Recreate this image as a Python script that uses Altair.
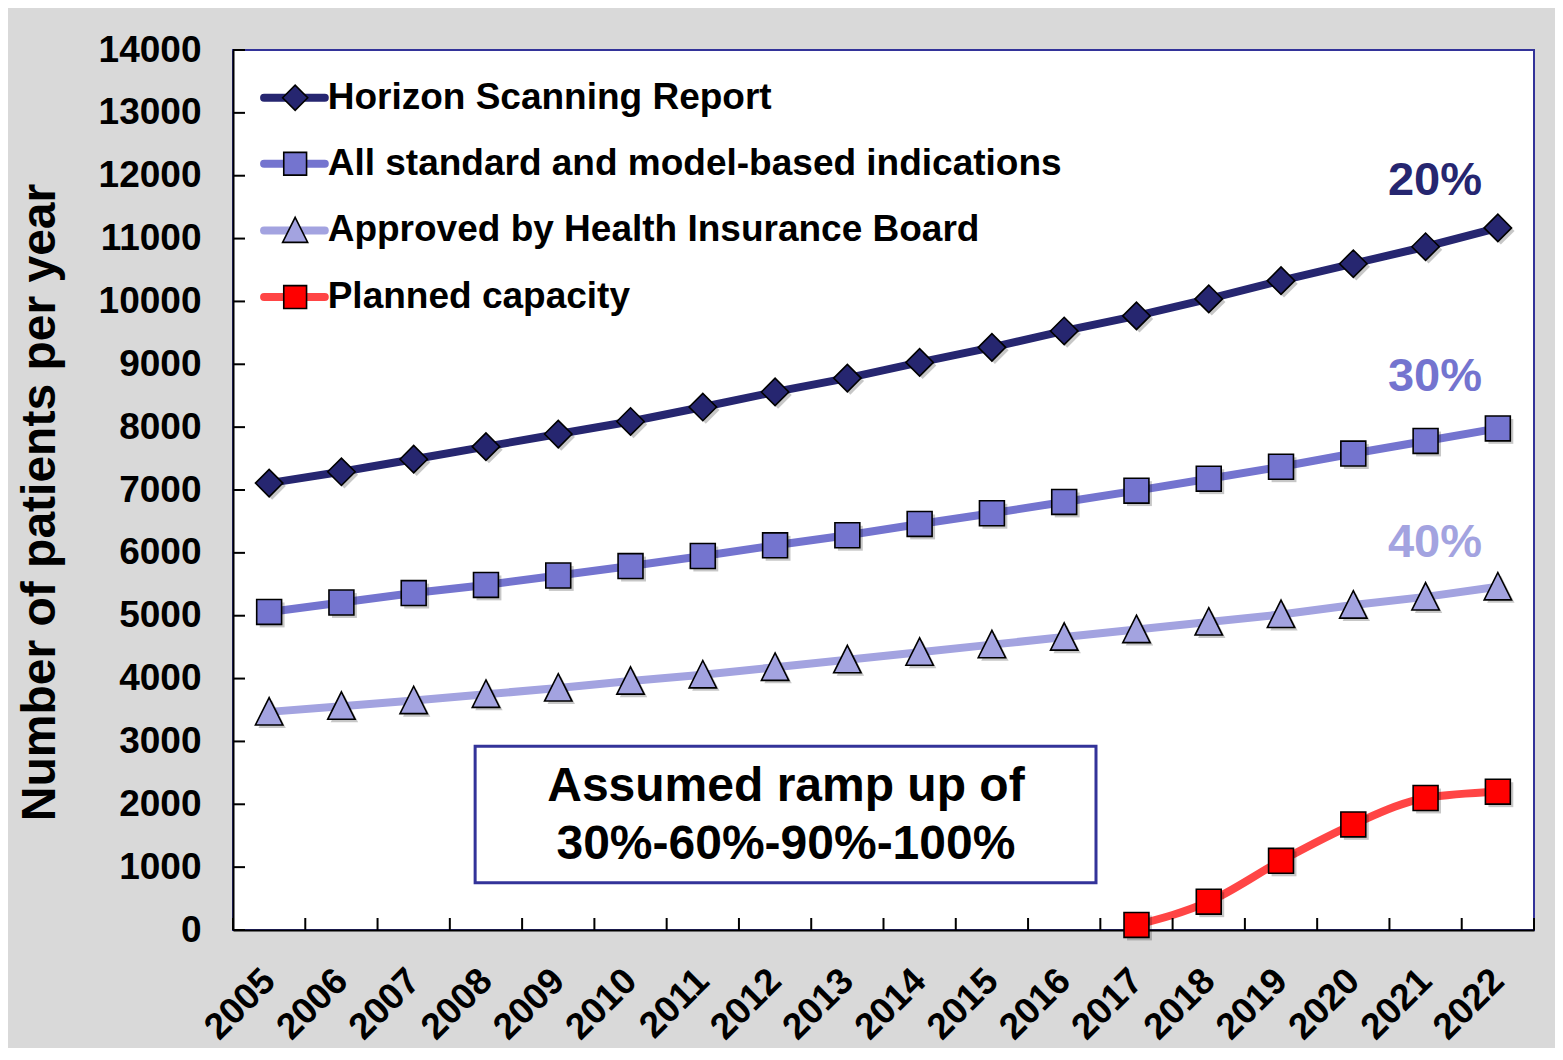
import altair as alt
import pandas as pd

# ---------------- data ----------------
years = list(range(2005, 2023))
horizon = [7110, 7290, 7490, 7690, 7890, 8090, 8320, 8560, 8780, 9030, 9270, 9530, 9770, 10040, 10330, 10600, 10870, 11170]
allstd = [5060, 5210, 5360, 5490, 5640, 5790, 5950, 6120, 6280, 6460, 6630, 6810, 6990, 7180, 7370, 7580, 7780, 7980]
approved = [3470, 3560, 3650, 3750, 3850, 3960, 4060, 4180, 4300, 4420, 4540, 4660, 4780, 4900, 5020, 5170, 5300, 5460]
planned_years = [2017, 2018, 2019, 2020, 2021, 2022]
planned = [80, 450, 1100, 1680, 2100, 2200]

series_names = [
    "Horizon Scanning Report",
    "All standard and model-based indications",
    "Approved by Health Insurance Board",
    "Planned capacity",
]
line_colors = ["#262670", "#7474cf", "#a3a3e0", "#ff4545"]
marker_fills = ["#262670", "#7474cf", "#a3a3e0", "#ff0000"]
shapes = ["M-1.1,0L0,-1.1L1.1,0L0,1.1Z", "square", "M0,-1.15L1.1,1.05L-1.1,1.05Z", "square"]
pct_labels = ["20%", "30%", "40%"]
pct_colors = ["#262670", "#7474cf", "#a3a3e0"]
y_ticks = list(range(0, 14001, 1000))
note_lines = ["Assumed ramp up of", "30%-60%-90%-100%"]

FONT = "Liberation Sans"

# ---------------- tables ----------------
rows = []
for name, vals in zip(series_names[:3], [horizon, allstd, approved]):
    for yr, v in zip(years, vals):
        rows.append({"series": name, "year": yr, "value": v})
for yr, v in zip(planned_years, planned):
    rows.append({"series": series_names[3], "year": yr, "value": v})
df = pd.DataFrame(rows)

x_lo, x_hi = years[0] - 0.5, years[-1] + 0.5
xscale = alt.Scale(domain=[x_lo, x_hi], nice=False, zero=False)
yscale = alt.Scale(domain=[0, 14000], nice=False)

color_scale = alt.Scale(domain=series_names, range=line_colors)
fill_scale = alt.Scale(domain=series_names, range=marker_fills)
shape_scale = alt.Scale(domain=series_names, range=shapes)

X = alt.X(
    "year:Q", scale=xscale,
    axis=alt.Axis(
        values=years, format="d", title=None, grid=False, ticks=False,
        labelAngle=-45, labelAlign="right", labelBaseline="middle",
        labelFontSize=37, labelFontWeight="bold", labelFont=FONT, labelColor="black",
        labelPadding=45, labelOffset=0, domainColor="black", domainWidth=2,
        labelOverlap=False,
    ),
)
Y = alt.Y(
    "value:Q", scale=yscale,
    axis=alt.Axis(
        values=y_ticks, format="d", title="Number of patients per year", grid=False, ticks=False,
        labelFontSize=37, labelFontWeight="bold", labelFont=FONT, labelColor="black",
        labelPadding=32, domainColor="black", domainWidth=2,
        titleFontSize=48, titleFontWeight="bold", titleFont=FONT, titleColor="black",
        titleX=-193, titleY=452, titleAngle=-90, titleAlign="center", titleBaseline="middle",
    ),
)

lines_lin = alt.Chart(df[df.series != series_names[3]]).mark_line(strokeWidth=8).encode(
    x=X, y=Y,
    color=alt.Color("series:N", scale=color_scale, legend=None),
)
lines_mono = alt.Chart(df[df.series == series_names[3]]).mark_line(
    strokeWidth=8, interpolate="monotone"
).encode(
    x=X, y=Y,
    color=alt.Color("series:N", scale=color_scale, legend=None),
)
shadows = alt.Chart(df).mark_point(
    filled=True, size=620, opacity=0.22, color="black", strokeWidth=0,
    xOffset=3, yOffset=3,
).encode(
    x=X, y=Y,
    shape=alt.Shape("series:N", scale=shape_scale, legend=None),
)
points = alt.Chart(df).mark_point(
    filled=True, size=620, stroke="black", strokeWidth=1.6, opacity=1
).encode(
    x=X, y=Y,
    fill=alt.Fill("series:N", scale=fill_scale, legend=None),
    shape=alt.Shape("series:N", scale=shape_scale, legend=None),
)

# inward tick marks (Excel style)
ytick_df = pd.DataFrame({"value": y_ticks, "year": x_lo, "year2": x_lo + 12 / 72.28})
yticks = alt.Chart(ytick_df).mark_rule(color="black", strokeWidth=2).encode(
    x=X, x2="year2:Q", y=Y,
)
xtick_df = pd.DataFrame({"year": [yr - 0.5 for yr in years] + [x_hi], "value": 0, "value2": 12 / 62.86 * 1000})
xticks = alt.Chart(xtick_df).mark_rule(color="black", strokeWidth=2).encode(
    x=X, y=Y, y2="value2:Q",
)

# manual legend in the top-left corner
leg_y = [13240, 12190, 11130, 10070]
leg_line_df = pd.DataFrame({"series": series_names, "value": leg_y, "year": x_lo + 0.43, "year2": x_lo + 1.27})
leg_pt_df = pd.DataFrame({"series": series_names, "value": leg_y, "year": x_lo + 0.86})
leg_txt_df = pd.DataFrame({"series": series_names, "value": leg_y, "year": x_lo + 1.31})
leg_lines = alt.Chart(leg_line_df).mark_rule(strokeWidth=8, strokeCap="round").encode(
    x=X, x2="year2:Q", y=Y,
    color=alt.Color("series:N", scale=color_scale, legend=None),
)
leg_pts = alt.Chart(leg_pt_df).mark_point(
    filled=True, size=520, stroke="black", strokeWidth=1.6, opacity=1
).encode(
    x=X, y=Y,
    fill=alt.Fill("series:N", scale=fill_scale, legend=None),
    shape=alt.Shape("series:N", scale=shape_scale, legend=None),
)
leg_txt = alt.Chart(leg_txt_df).mark_text(
    align="left", baseline="middle", fontSize=37, fontWeight="bold", font=FONT, color="black"
).encode(x=X, y=Y, text="series:N")

# percentage labels
pct_df = pd.DataFrame({"label": pct_labels, "year": 2021.13, "value": [11920, 8790, 6150]})
pct = alt.Chart(pct_df).mark_text(
    align="center", baseline="middle", fontSize=47, fontWeight="bold", font=FONT
).encode(
    x=X, y=Y, text="label:N",
    color=alt.Color("label:N", scale=alt.Scale(domain=pct_labels, range=pct_colors), legend=None),
)

# annotation box
box_df = pd.DataFrame({"year": [2007.85], "year2": [2016.44], "value": [750], "value2": [2925]})
box = alt.Chart(box_df).mark_rect(fill="white", stroke="#333399", strokeWidth=3).encode(
    x=X, x2="year2:Q", y=Y, y2="value2:Q",
)
note_df = pd.DataFrame({"line": note_lines, "year": 2012.15, "value": [2270, 1350]})
note = alt.Chart(note_df).mark_text(
    align="center", baseline="middle", fontSize=48, fontWeight="bold", font=FONT, color="black"
).encode(x=X, y=Y, text="line:N")

chart = alt.layer(
    lines_lin, lines_mono, yticks, xticks, box, note, pct, leg_lines, leg_pts, leg_txt, shadows, points
).properties(
    width=1301, height=880,
    background="#d9d9d9",
    padding={"left": 225, "top": 42, "right": 21, "bottom": 118},
    autosize=alt.AutoSizeParams(type="none"),
).configure_view(
    fill="white", stroke="#333399", strokeWidth=2
)

chart.save("out.html", embed_options={"renderer": "svg", "actions": False})
